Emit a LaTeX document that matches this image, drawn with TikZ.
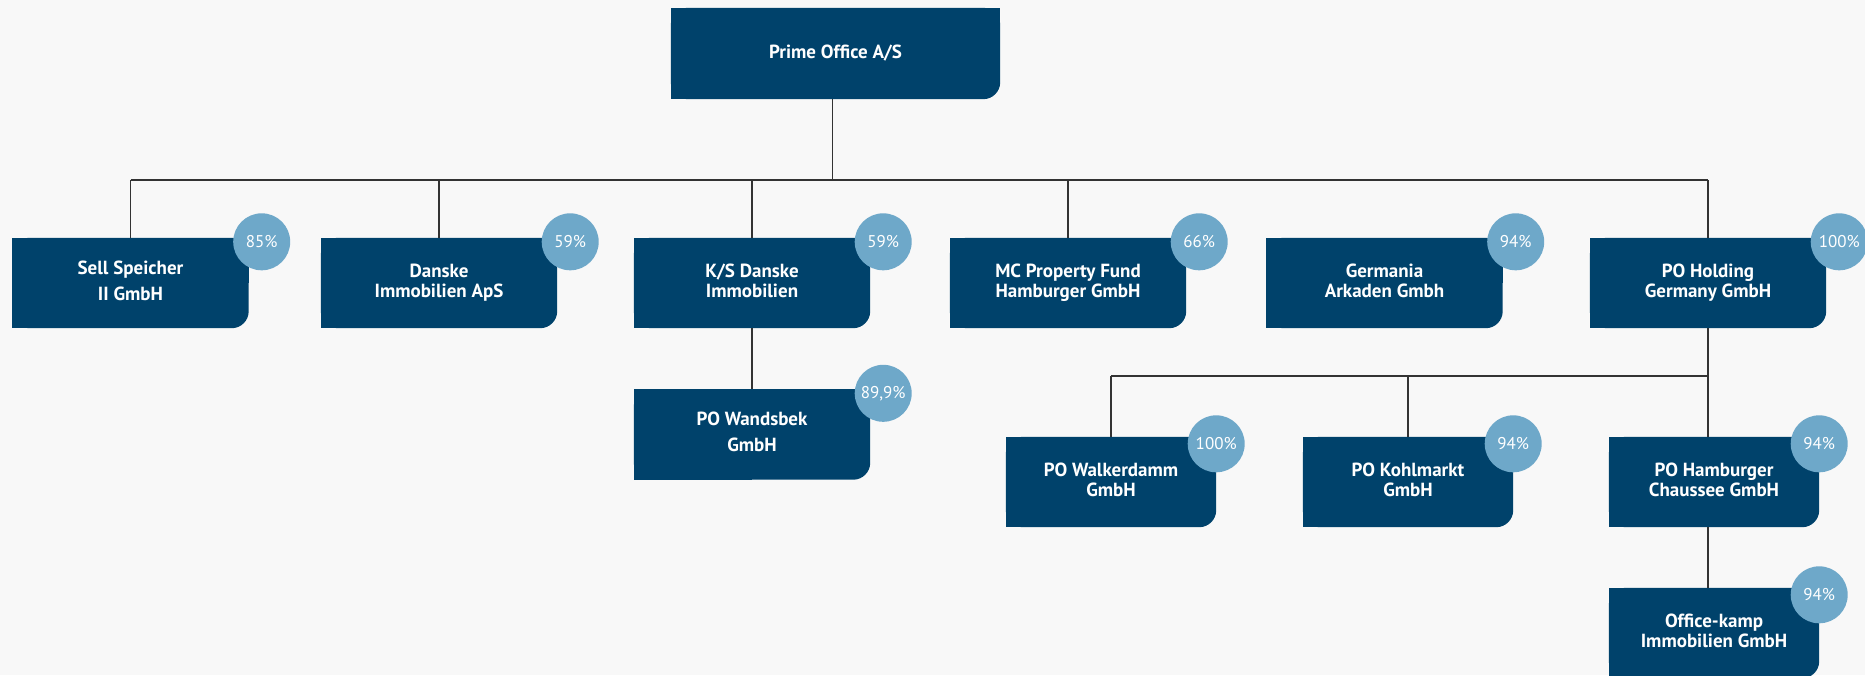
\documentclass[tikz,border=0pt]{standalone}
\usepackage{fontspec}
\setmainfont{PT Sans}
\usetikzlibrary{backgrounds}
\definecolor{boxblue}{HTML}{00426B}
\definecolor{pctblue}{HTML}{6EA8C9}
\definecolor{pagegray}{HTML}{F8F8F8}
\definecolor{linegray}{HTML}{333333}
\tikzset{
    x=1pt,
    y=-1pt,
    plainbox/.style = {
        shape=rectangle,
        minimum width=236pt,
        minimum height=90pt,
        inner sep=0pt,
        text=white,
        align=center,
        font=\fontsize{19}{20}\selectfont\bfseries
    },
    box/.style = {
        plainbox,
        execute at begin node={\rule{0pt}{\dimexpr\baselineskip+5pt\relax}},
        execute at end node={\rule[-5pt]{0pt}{5pt}}
    },
    widegap/.style = {
        font=\fontsize{19}{26}\selectfont\bfseries
    },
    smallbox/.style = {
        box,
        minimum width=210pt
    },
    pct/.style = {
        shape=circle,
        fill=pctblue,
        minimum size=57pt,
        inner sep=0pt,
        text=white,
        font=\fontsize{17}{17}\selectfont
    },
    link/.style = {
        draw=linegray,
        line width=1.2pt
    },
}
% box with one rounded corner (bottom right)
\newcommand{\boxfill}[1]{%
    \fill[boxblue, rounded corners=17pt] (#1.north west) rectangle (#1.south east);
    \fill[boxblue] (#1.north west) rectangle (#1.east);
    \fill[boxblue] (#1.north west) rectangle (#1.south);
}

\begin{document}
\begin{tikzpicture}
    \useasboundingbox (0,0) rectangle (1865,675);

    \node[plainbox, minimum width=329pt, minimum height=91pt] (prime) at (835.5,53.5) {Prime Office A/S};

    \node[box, widegap] (sell) at (130.5,283) {Sell Speicher\\II GmbH};
    \node[box] (danske) at (439,283) {Danske\\Immobilien ApS};
    \node[box] (ksdanske) at (752,283) {K/S Danske\\Immobilien};
    \node[box] (mcfund) at (1068,283) {MC Property Fund\\Hamburger GmbH};
    \node[box] (germania) at (1384.5,283) {Germania\\Arkaden Gmbh};
    \node[box] (holding) at (1708,283) {PO Holding\\Germany GmbH};

    \node[box, widegap] (wandsbek) at (752,434.5) {PO Wandsbek\\GmbH};

    \node[smallbox] (walker) at (1111,482) {PO Walkerdamm\\GmbH};
    \node[smallbox] (kohl) at (1408,482) {PO Kohlmarkt\\GmbH};
    \node[smallbox] (chaussee) at (1714,482) {PO Hamburger\\Chaussee GmbH};
    \node[smallbox] (officekamp) at (1714,633) {Office-kamp\\Immobilien GmbH};

    %connect
    \coordinate (bus) at (0,180);
    \coordinate (bus2) at (0,376);
    \path[link] ([xshift=-3pt]prime.south) -- ([xshift=-3pt]prime.south |- bus);
    \path[link] (sell.north |- bus) -- (holding.north |- bus);
    \foreach \n in {sell,danske,ksdanske,mcfund,holding}
        \path[link] (\n.north |- bus) -- (\n.north);
    \path[link] (ksdanske.south) -- (wandsbek.north);
    \path[link] (holding.south) -- (holding.south |- chaussee.north);
    \path[link] (walker.north |- bus2) -- (holding.south |- bus2);
    \path[link] (walker.north |- bus2) -- (walker.north);
    \path[link] (kohl.north |- bus2) -- (kohl.north);
    \path[link] (holding.south |- chaussee.south) -- (holding.south |- officekamp.north);

    %shares
    \foreach \n/\p in {sell/85\%, danske/59\%, ksdanske/59\%, mcfund/66\%,
                       germania/94\%, holding/100\%, wandsbek/{89,9\%}}
        \node[pct] (\n-pct) at ([shift={(13,4)}]\n.north east) {\p};
    \foreach \n/\p in {walker/100\%, kohl/94\%, chaussee/94\%, officekamp/94\%}
        \node[pct] (\n-pct) at ([shift={(0,7)}]\n.north east) {\p};

    \begin{scope}[on background layer]
        \fill[pagegray] (0,0) rectangle (1865,675);
        \foreach \n in {prime,sell,danske,ksdanske,mcfund,germania,holding,
                        wandsbek,walker,kohl,chaussee,officekamp}
            {\boxfill{\n}}
    \end{scope}
\end{tikzpicture}
\end{document}
